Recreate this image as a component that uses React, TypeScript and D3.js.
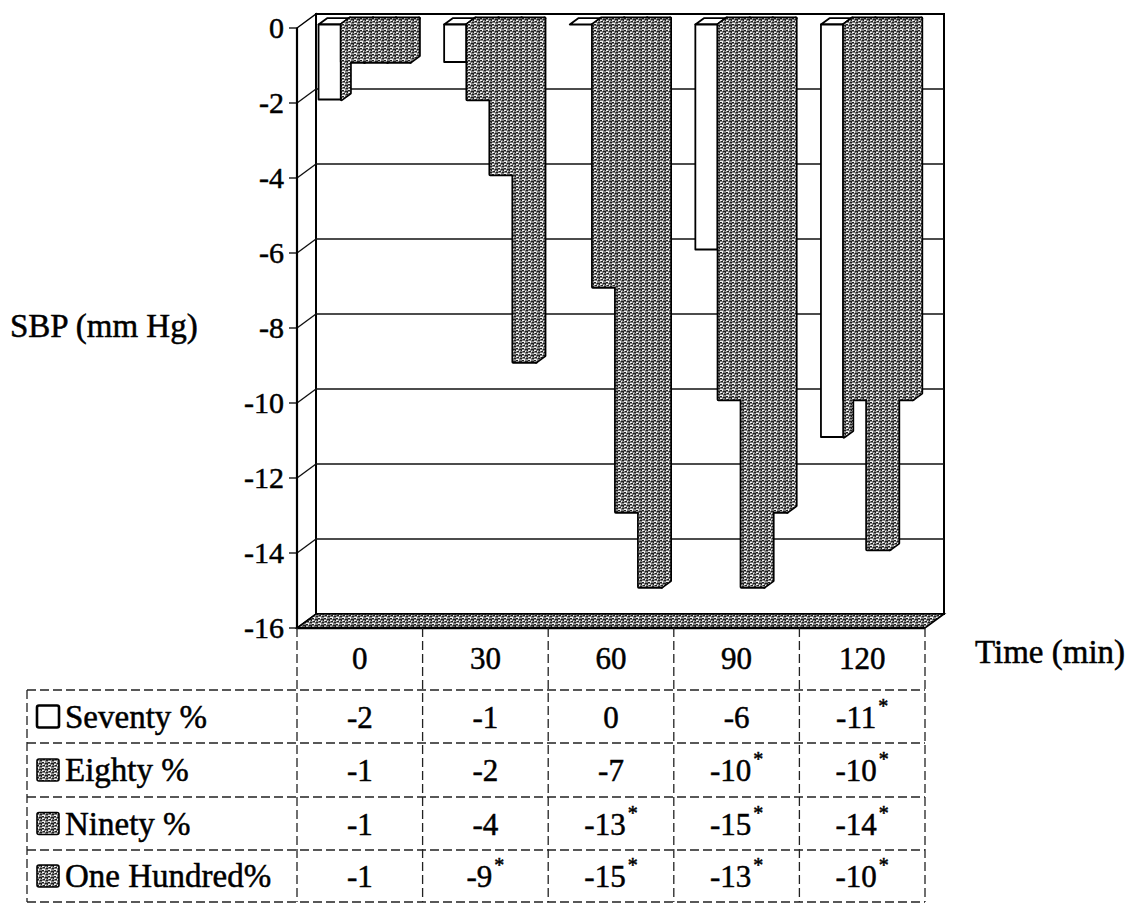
import React from "react";
import * as d3 from "d3";

// Time points (min) and the four dose series of SBP change (mm Hg)
const times = ["0", "30", "60", "90", "120"];
const seriesNames = ["Seventy %", "Eighty %", "Ninety %", "One Hundred%"];
const seventy = [-2, -1, 0, -6, -11];
const eighty = [-1, -2, -7, -10, -10];
const ninety = [-1, -4, -13, -15, -14];
const hundred = [-1, -9, -15, -13, -10];
// significance markers (*) shown in the data table
const seventySig = [false, false, false, false, true];
const eightySig = [false, false, false, true, true];
const ninetySig = [false, false, true, true, true];
const hundredSig = [false, true, true, true, true];
const yTicks = [0, -2, -4, -6, -8, -10, -12, -14, -16];

const seriesValues = [seventy, eighty, ninety, hundred];
const seriesSig = [seventySig, eightySig, ninetySig, hundredSig];

const W = 1130;
const H = 905;
const FONT = "'Liberation Serif', 'DejaVu Serif', serif";

// plot frame (front plane) and depth offset of the back wall
const X0 = 297;
const X1 = 925;
const DEPTH = { dx: 19, dy: -14 };
// bars sit between these fractions of the depth
const BAR_FRONT = 0.25;
const BAR_BACK = 0.7;

const yScale = d3.scaleLinear().domain([0, -16]).range([28, 628]);
const xCat = d3
  .scaleBand<string>()
  .domain(times)
  .range([X0, X1])
  .paddingInner(0.2675)
  .paddingOuter(0.2675 / 2);
const xSer = d3
  .scaleBand<string>()
  .domain(seriesNames)
  .range([0, xCat.bandwidth()])
  .padding(0);

// table rows
const headerY = 628;
const rowEdges = [690, 743, 797, 850, 902];
const tableLeft = 27;

type Pt = [number, number];
const pts = (p: Pt[]) => p.map((q) => q.join(",")).join(" ");

// faces of one 3-D column hanging from zero down to v
function faces(x: number, w: number, v: number) {
  const fdx = DEPTH.dx * BAR_FRONT;
  const fdy = DEPTH.dy * BAR_FRONT;
  const bdx = DEPTH.dx * BAR_BACK;
  const bdy = DEPTH.dy * BAR_BACK;
  const y0 = yScale(0);
  const yv = yScale(v);
  const top: Pt[] = [
    [x + fdx, y0 + fdy],
    [x + fdx + w, y0 + fdy],
    [x + bdx + w, y0 + bdy],
    [x + bdx, y0 + bdy],
  ];
  const side: Pt[] = [
    [x + fdx + w, y0 + fdy],
    [x + bdx + w, y0 + bdy],
    [x + bdx + w, yv + bdy],
    [x + fdx + w, yv + fdy],
  ];
  const front: Pt[] = [
    [x + fdx, y0 + fdy],
    [x + fdx + w, y0 + fdy],
    [x + fdx + w, yv + fdy],
    [x + fdx, yv + fdy],
  ];
  return { top, side, front };
}

function Cluster({ t, ci }: { t: string; ci: number }) {
  const w = xSer.bandwidth();
  const xAt = (si: number) => (xCat(t) as number) + (xSer(seriesNames[si]) as number);
  const white = faces(xAt(0), w, seventy[ci]);
  // shaded polygons: side of the white column plus every face of the dark columns
  const shaded: Pt[][] = [];
  if (seventy[ci] !== 0) shaded.push(white.side);
  for (let si = 1; si < seriesNames.length; si++) {
    const f = faces(xAt(si), w, seriesValues[si][ci]);
    shaded.push(f.side, f.top, f.front);
  }
  return (
    <g strokeLinejoin="round">
      <g fill="#fff" stroke="#000" strokeWidth={1.8}>
        <polygon points={pts(white.top)} />
        {seventy[ci] !== 0 && <polygon points={pts(white.front)} />}
      </g>
      {/* outline pass, then fill pass so the dark columns read as one block */}
      <g fill="url(#tex)" stroke="#000" strokeWidth={3.4}>
        {shaded.map((p, i) => (
          <polygon key={i} points={pts(p)} />
        ))}
      </g>
      <g fill="url(#tex)" stroke="none">
        {shaded.map((p, i) => (
          <polygon key={i} points={pts(p)} />
        ))}
      </g>
    </g>
  );
}

function Label(props: React.SVGProps<SVGTextElement>) {
  return (
    <text
      fontFamily={FONT}
      fill="#000"
      stroke="#000"
      strokeWidth={0.5}
      style={{ fontFamily: FONT }}
      {...props}
    />
  );
}

export default function App() {
  const backY = (v: number) => yScale(v) + DEPTH.dy;
  const yTop = yScale(0);
  const yBot = yScale(-16);
  const tableDash = "9 4";

  return (
    <svg
      width={W}
      height={H}
      viewBox={`0 0 ${W} ${H}`}
      fontFamily={FONT}
      style={{ position: "absolute", left: 0, top: 0, background: "#fff" }}
    >
      <defs>
        <pattern id="tex" width="6" height="6" patternUnits="userSpaceOnUse">
          <rect width="6" height="6" fill="#808080" />
          <path d="M0 0.5h2M3 1.5h3M1 3.5h2M4 4.5h2M5 2.5h1" stroke="#1e1e1e" strokeWidth="1" />
          <path d="M2 0.5h1M0 2.5h2M3 3.5h1M0 5.5h3" stroke="#f4f4f4" strokeWidth="1" />
        </pattern>
      </defs>

      {/* side wall */}
      <polygon
        points={pts([
          [X0, yTop],
          [X0 + DEPTH.dx, yTop + DEPTH.dy],
          [X0 + DEPTH.dx, yBot + DEPTH.dy],
          [X0, yBot],
        ])}
        fill="#fff"
        stroke="#000"
        strokeWidth={1.5}
      />
      {/* back wall */}
      <rect
        x={X0 + DEPTH.dx}
        y={yTop + DEPTH.dy}
        width={X1 - X0}
        height={yBot - yTop}
        fill="#fff"
        stroke="#000"
        strokeWidth={2}
      />
      {/* gridlines on back and side walls */}
      {yTicks
        .filter((t) => t !== 0 && t !== -16)
        .map((t) => (
          <g key={t} stroke="#111" strokeWidth={1.4}>
            <line x1={X0 + DEPTH.dx} x2={X1 + DEPTH.dx} y1={backY(t)} y2={backY(t)} />
            <line x1={X0} x2={X0 + DEPTH.dx} y1={yScale(t)} y2={backY(t)} />
          </g>
        ))}
      {/* floor */}
      <polygon
        points={pts([
          [X0, yBot],
          [X1, yBot],
          [X1 + DEPTH.dx, yBot + DEPTH.dy],
          [X0 + DEPTH.dx, yBot + DEPTH.dy],
        ])}
        fill="url(#tex)"
        stroke="#000"
        strokeWidth={1.6}
      />
      <line x1={X0} x2={X1} y1={yBot} y2={yBot} stroke="#000" strokeWidth={2.6} />

      {/* columns */}
      {times.map((t, ci) => (
        <Cluster key={t} t={t} ci={ci} />
      ))}

      {/* value axis */}
      <line x1={X0} x2={X0} y1={yTop} y2={yBot} stroke="#000" strokeWidth={2.2} />
      {yTicks.map((t) => (
        <g key={t}>
          <line x1={X0 - 8} x2={X0} y1={yScale(t)} y2={yScale(t)} stroke="#000" strokeWidth={1.3} />
          <Label x={X0 - 13} y={yScale(t) + 10} textAnchor="end" fontSize={30}>
            {t}
          </Label>
        </g>
      ))}
      <Label x={10} y={337} fontSize={33}>
        SBP (mm Hg)
      </Label>
      <Label x={975} y={663} fontSize={33}>
        Time (min)
      </Label>

      {/* data table */}
      <g stroke="#222" strokeWidth={1.3} strokeDasharray={tableDash} fill="none">
        {[X0, ...times.map((t) => (xCat(t) as number) + xCat.bandwidth() + (xCat.step() - xCat.bandwidth()) / 2)].map(
          (x, i) => (
            <line key={i} x1={x} x2={x} y1={headerY} y2={rowEdges[rowEdges.length - 1]} />
          )
        )}
        {rowEdges.map((y, i) => (
          <line key={i} x1={tableLeft} x2={X1} y1={y} y2={y} />
        ))}
        <line x1={tableLeft} x2={tableLeft} y1={rowEdges[0]} y2={rowEdges[rowEdges.length - 1]} />
      </g>
      {times.map((t) => (
        <Label key={t} x={(xCat(t) as number) + xCat.bandwidth() / 2} y={669} textAnchor="middle" fontSize={31}>
          {t}
        </Label>
      ))}
      {seriesNames.map((s, si) => {
        const yc = (rowEdges[si] + rowEdges[si + 1]) / 2;
        return (
          <g key={s}>
            <rect
              x={37}
              y={yc - 11}
              width={22}
              height={22}
              fill={si === 0 ? "#fff" : "url(#tex)"}
              stroke="#000"
              strokeWidth={si === 0 ? 2.6 : 1.6}
              rx={2}
            />
            <Label x={65} y={yc + 11} fontSize={33}>
              {s}
            </Label>
            {times.map((t, ci) => (
              <Label
                key={t}
                x={(xCat(t) as number) + xCat.bandwidth() / 2}
                y={yc + 11}
                textAnchor="middle"
                fontSize={31}
              >
                {seriesValues[si][ci]}
                {seriesSig[si][ci] && (
                  <tspan dx={2} dy={-15} fontSize={20}>
                    *
                  </tspan>
                )}
              </Label>
            ))}
          </g>
        );
      })}
    </svg>
  );
}
